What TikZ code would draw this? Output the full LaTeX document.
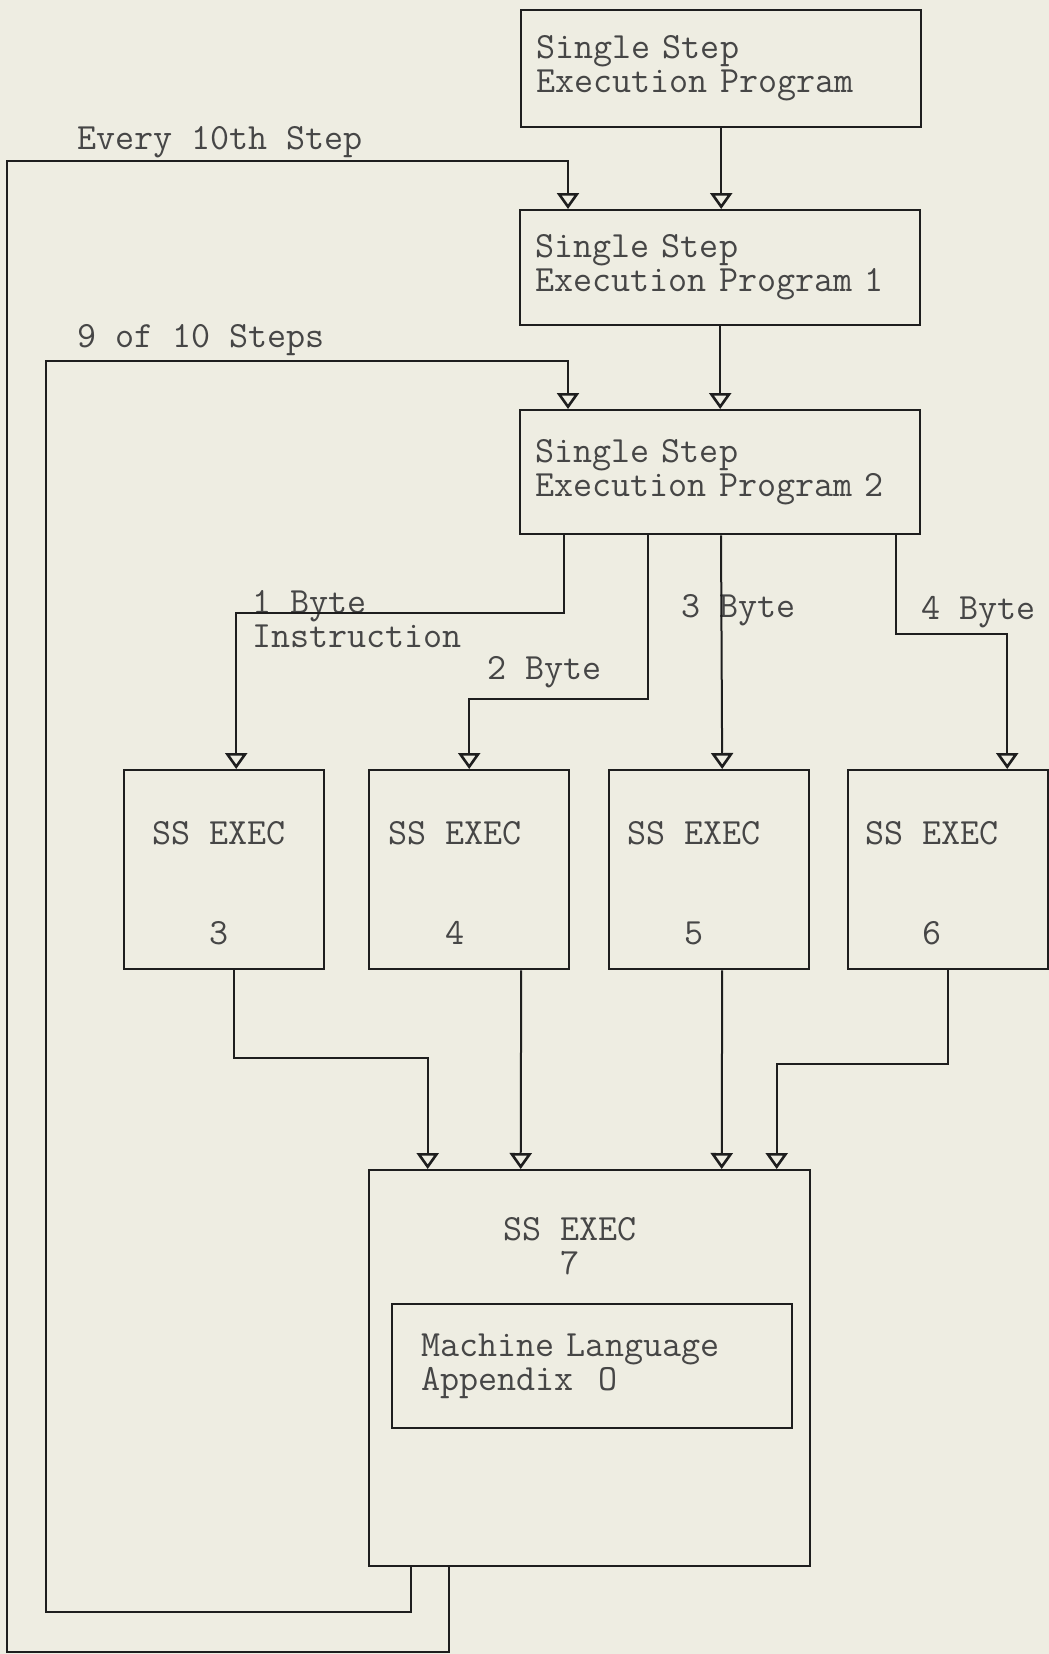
\documentclass[tikz,border=0pt]{standalone}
\usetikzlibrary{arrows.meta,calc}
\definecolor{paper}{RGB}{238,237,226}
\definecolor{ink}{RGB}{30,30,30}
\definecolor{type}{RGB}{70,70,70}
\tikzset{
	box/.style={draw=ink, line width=2.4pt, anchor=north west, inner sep=0pt},
	prog/.style={box, inner xsep=15pt, text width=370pt, align=left, text=type},
	ssbox/.style={box, minimum width=200pt, minimum height=199pt},
	txt/.style={inner sep=0pt, text=type},
	conn/.style={draw=ink, line width=2pt, -{Triangle[open, width=22pt, length=16pt, line width=2.6pt]}}
}
\begin{document}
\begin{tikzpicture}[x=1pt, y=-1pt, font=\ttfamily\fontsize{37}{34}\selectfont]
	%paper
	\fill[paper] (0,0) rectangle (1049,1654);
	\useasboundingbox (0,0) rectangle (1049,1654);
	%programs
	\node[prog, minimum height=117pt] (p0) at (520,9) {Single Step\\Execution Program};
	\node[prog, minimum height=115pt] (p1) at (519,209) {Single Step\\Execution Program 1};
	\node[prog, minimum height=124pt] (p2) at (519,409) {Single Step\\Execution Program 2};
	%exec boxes
	\foreach \n/\x/\d in {3/123/-5, 4/368/-14, 5/608/-15, 6/847/-16}{
		\node[ssbox] (ss\n) at (\x,769) {};
		\node[txt] (ssl\n) at ($(ss\n.north)+(\d,64)$) {SS EXEC};
		\node[txt] (ssn\n) at ($(ss\n.north)+(\d,164)$) {\n};
	}
	\node[box, minimum width=441pt, minimum height=396pt] (ss7) at (368,1169) {};
	\node[txt, align=center] (ssl7) at ($(ss7.north)+(-20,77)$) {SS EXEC\\7};
	\node[box, inner xsep=29pt, text width=342pt, align=left, minimum height=124pt, text=type] (ml) at (391,1303) {Machine Language\\Appendix~~O};
	%labels
	\node[txt, anchor=west] (every) at (77,142) {Every 10th Step};
	\node[txt, anchor=west] (nine) at (77,340) {9 of 10 Steps};
	\node[txt, anchor=west, align=left] (one) at (252,619) {1 Byte\\Instruction};
	\node[txt, anchor=west] (two) at (487,672) {2 Byte};
	\node[txt, anchor=west] (three) at (681,610) {3 Byte};
	\node[txt, anchor=west] (four) at (921,612) {4 Byte};
	%main line
	\draw[conn] (p0.south) -- (p0.south |- p1.north);
	\draw[conn] (p1.south) -- (p1.south |- p2.north);
	%branches
	\draw[conn] ([xshift=45pt]p2.south west) -- ++(0,78) -| ([xshift=12pt]ss3.north);
	\draw[conn] ([xshift=129pt]p2.south west) -- ++(0,164) -| (ss4.north);
	\draw[conn] ([xshift=202pt]p2.south west) -- ([xshift=13pt]ss5.north);
	\draw[conn] ([xshift=377pt]p2.south west) -- ++(0,99) -| ([xshift=59pt]ss6.north);
	%joins
	\draw[conn] ([xshift=10pt]ss3.south) -- ++(0,88) -| ([xshift=-162pt]ss7.north);
	\draw[conn] ([xshift=52pt]ss4.south) -- ([xshift=-69pt]ss7.north);
	\draw[conn] ([xshift=13pt]ss5.south) -- ([xshift=132pt]ss7.north);
	\draw[conn] (ss6.south) -- ++(0,94) -| ([xshift=187pt]ss7.north);
	%loops
	\draw[conn] ([xshift=-141pt]ss7.south) |- (7,1652) -- (7,161) -| ([xshift=49pt]p1.north west);
	\draw[conn] ([xshift=-179pt]ss7.south) |- (46,1612) -- (46,361) -| ([xshift=49pt]p2.north west);
\end{tikzpicture}
\end{document}
